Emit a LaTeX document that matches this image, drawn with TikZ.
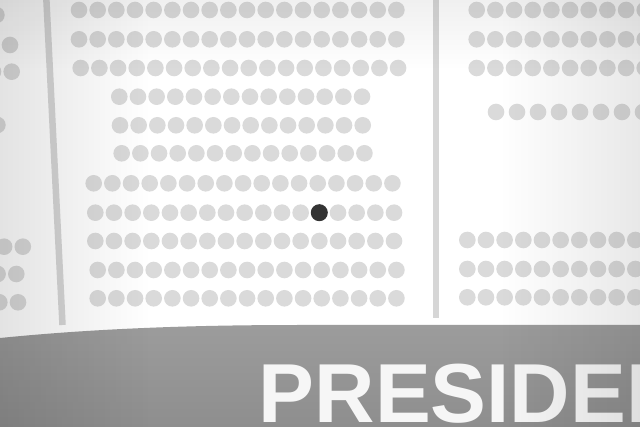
\documentclass[tikz,border=0pt]{standalone}
\usepackage{fontspec}
\newfontfamily\bandfont{Liberation Sans}
\usetikzlibrary{fadings}
\definecolor{seatG}{RGB}{218,218,218}
\definecolor{seatD}{RGB}{52,52,52}
\definecolor{aisleG}{RGB}{214,214,214}
\definecolor{bandT}{RGB}{156,156,156}
\definecolor{bandB}{RGB}{142,142,142}
\definecolor{letterW}{RGB}{246,246,246}
\tikzfading[name=fadeleft, left color=transparent!0, right color=transparent!100]
\tikzfading[name=faderight, left color=transparent!100, right color=transparent!0]
\tikzfading[name=fadetop, top color=transparent!0, bottom color=transparent!100]

\begin{document}
\begin{tikzpicture}[x=1pt, y=-1pt,
  seat/.style={fill=seatG},
  aisle/.style={draw=aisleG, line width=6.5pt}]
\useasboundingbox (0,0) rectangle (640,427);
\clip (0,0) rectangle (640,427);
\fill[white] (0,0) rectangle (640,427);
% centre block
\foreach \y/\xs/\n in {10/79/18, 39.3/79/18, 68/80.7/18, 96.7/119.3/14, 125.3/120/14,
  153.3/121.7/14, 183.3/93.7/17, 212.7/95.3/17, 241/95.3/17, 270/97.7/17, 298.3/97.7/17}
  \foreach \i in {1,...,\n} \fill[seat] ({\xs+(\i-1)*18.67},\y) circle (8.3pt);
\fill[seatD] (319.3,212.7) circle (8.5pt);
% right block
\foreach \y/\xs/\n/\d in {10/476.7/10/18.67, 39.3/476.7/10/18.67, 68/476.7/10/18.67,
  112/496/8/21, 240/467.3/10/18.67, 269/467.3/10/18.67, 297.3/467.3/10/18.67}
  \foreach \i in {1,...,\n} \fill[seat] ({\xs+(\i-1)*\d},\y) circle (8.3pt);
% left block, cut by the edge
\foreach \x/\y in {-3.6/15, 10/45, 11.7/71.7, -7/71.7, -2.6/125, 22.8/246.7, 4.1/246.7,
  16.3/274, -2.4/274, 18/302.3, -0.7/302.3}
  \fill[seat] (\x,\y) circle (8.3pt);
% aisles
\draw[aisle] (46.3,-2) -- (62.5,325);
\draw[aisle] (435.8,-2) -- (435.8,318.3);
% front band
\shade[top color=bandT, bottom color=bandB]
  (0,338) .. controls (100,328) and (200,325) .. (300,325) -- (640,325)
  -- (640,427) -- (0,427) -- cycle;
\node[anchor=base west, inner sep=0pt, text=letterW,
  font=\bandfont\bfseries\fontsize{83.7}{84}\selectfont] (title) at (258.6,423) {PRESIDEN};
% edge shading
\fill[black, fill opacity=0.11, path fading=fadeleft] (0,0) rectangle (150,427);
\fill[black, fill opacity=0.09, path fading=faderight] (500,0) rectangle (640,427);
\fill[black, fill opacity=0.06, path fading=fadetop] (0,0) rectangle (640,70);
\end{tikzpicture}
\end{document}
